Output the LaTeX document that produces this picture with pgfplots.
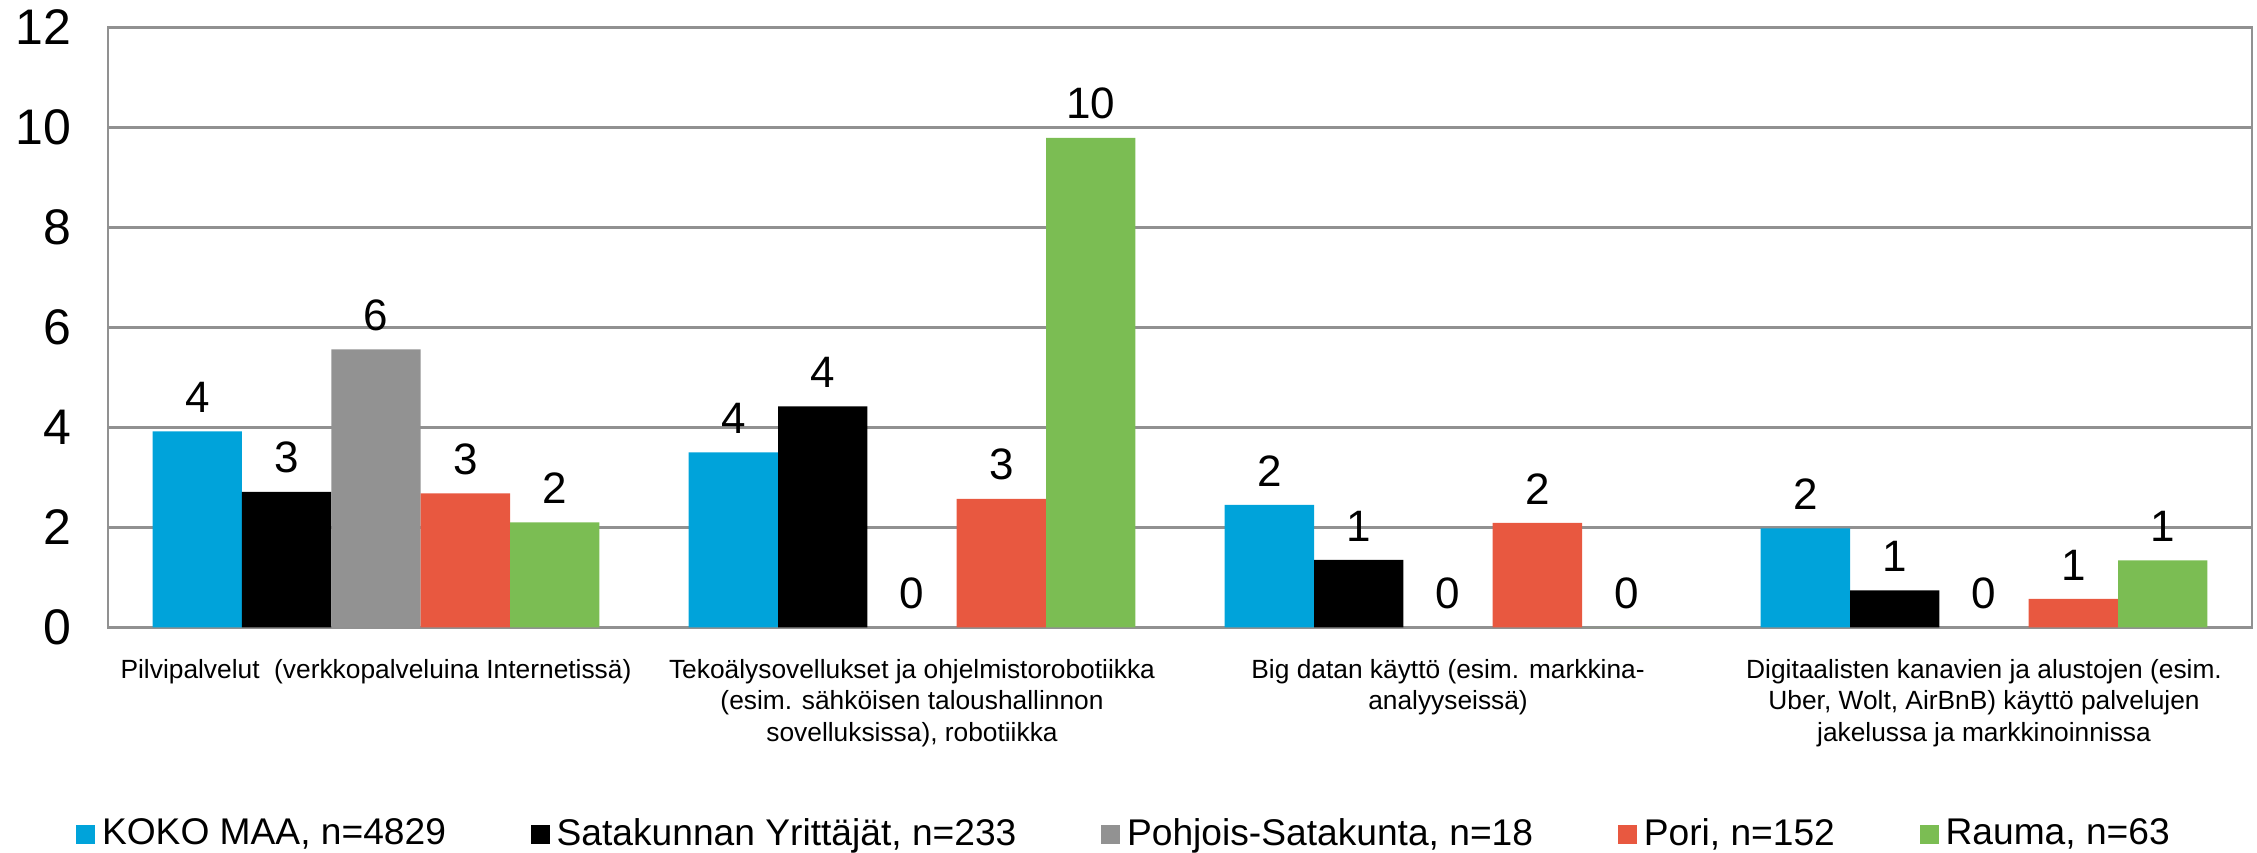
\documentclass[border=0pt]{standalone}
\usepackage{fontspec}
\setmainfont{Liberation Sans}
\usepackage{pgfplots}
\pgfplotsset{compat=1.18}
\definecolor{cblue}{RGB}{0,163,218}
\definecolor{cgray}{RGB}{146,146,146}
\definecolor{cred}{RGB}{232,88,64}
\definecolor{cgreen}{RGB}{123,189,83}
\definecolor{axisgray}{RGB}{145,145,145}
\begin{document}
\begin{tikzpicture}
\begin{axis}[
  name=ax,
  scale only axis,
  width=643.2pt, height=180pt,
  ymin=0, ymax=12, ytick={0,2,...,12},
  xmin=-0.5, xmax=3.5, xtick={0,1,2,3},
  xticklabels={
    {Pilvipalvelut~ (verkkopalveluina Internetissä)},
    {Tekoälysovellukset ja ohjelmistorobotiikka\\(esim. sähköisen taloushallinnon\\sovelluksissa), robotiikka},
    {Big datan käyttö (esim. markkina-\\analyyseissä)},
    {Digitaalisten kanavien ja alustojen (esim.\\Uber, Wolt, AirBnB) käyttö palvelujen\\jakelussa ja markkinoinnissa}},
  ybar=0pt, bar width=26.8pt,
  axis line style={draw=axisgray, line width=0.75pt},
  ymajorgrids, grid style={draw=axisgray, line width=0.75pt},
  major tick length=0pt, tick style={draw=none},
  /pgf/number format/.cd, fixed, precision=0, assume math mode=true,
  /pgfplots/.cd,
  yticklabel style={font=\fontsize{15}{17}\selectfont, xshift=-7.5pt},
  xticklabel style={font=\fontsize{7.9}{9.45}\selectfont, align=center, yshift=-6pt},
  nodes near coords,
  every node near coord/.append style={font=\fontsize{13.2}{15}\selectfont, text=black, yshift=2pt},
  legend style={at={(0.475,-0.3447)}, anchor=center, draw=none,
    font=\fontsize{11.15}{13}\selectfont,
    /tikz/every even column/.append style={column sep=23.5pt}},
  legend columns=5,
  legend image code/.code={\fill[#1,draw=none] (0pt,-2.85pt) rectangle (5.7pt,2.85pt);},
]
\addplot[fill=cblue, draw=none] coordinates {(0,3.92) (1,3.50) (2,2.45) (3,1.98)};
\addlegendentry{KOKO MAA, n=4829}
\addplot[fill=black, draw=none] coordinates {(0,2.71) (1,4.42) (2,1.35) (3,0.74)};
\addlegendentry{Satakunnan Yrittäjät, n=233}
\addplot[fill=cgray, draw=none] coordinates {(0,5.56) (1,0) (2,0) (3,0)};
\addlegendentry{Pohjois-Satakunta, n=18}
\addplot[fill=cred, draw=none] coordinates {(0,2.68) (1,2.57) (2,2.09) (3,0.57)};
\addlegendentry{Pori, n=152}
\addplot[fill=cgreen, draw=none] coordinates {(0,2.10) (1,9.79) (2,0) (3,1.34)};
\addlegendentry{Rauma, n=63}
\end{axis}
\pgfresetboundingbox
\path ([xshift=-32.4pt,yshift=-67.6pt]ax.south west) rectangle ([xshift=1.5pt,yshift=8.2pt]ax.north east);
\end{tikzpicture}
\end{document}
